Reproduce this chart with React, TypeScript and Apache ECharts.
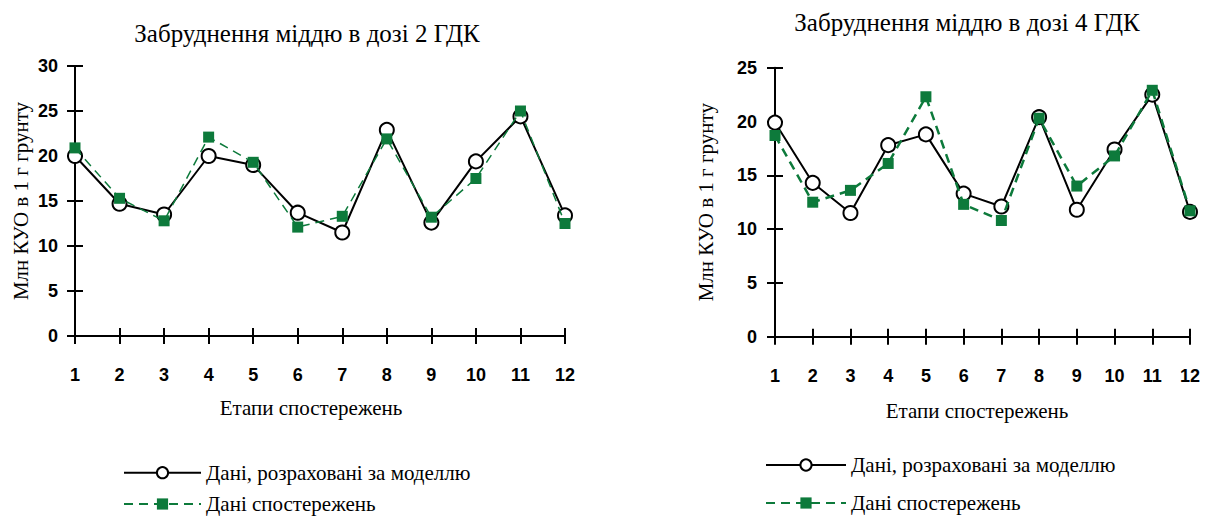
import React, { useEffect, useRef } from "react";
import * as echarts from "echarts";

const stages = ["1", "2", "3", "4", "5", "6", "7", "8", "9", "10", "11", "12"];
const model2 = [20.0, 14.7, 13.5, 20.0, 19.0, 13.7, 11.5, 22.9, 12.6, 19.4, 24.4, 13.4];
const observed2 = [20.9, 15.3, 12.8, 22.1, 19.3, 12.1, 13.3, 21.9, 13.2, 17.5, 25.0, 12.5];
const model4 = [19.9, 14.3, 11.5, 17.8, 18.8, 13.3, 12.1, 20.4, 11.8, 17.4, 22.5, 11.6];
const observed4 = [18.7, 12.5, 13.6, 16.1, 22.3, 12.3, 10.8, 20.3, 14.0, 16.8, 22.9, 11.7];

const titles = ["Забруднення міддю в дозі 2 ГДК", "Забруднення міддю в дозі 4 ГДК"];
const seriesNames = ["Дані, розраховані за моделлю", "Дані спостережень"];
const xName = "Етапи спостережень";
const yName = "Млн КУО в 1 г грунту";

const GREEN = "#0d7a3b";
const SERIF = "Liberation Serif";
const SANS = "Liberation Sans";

export default function App() {
  const ref = useRef<HTMLDivElement>(null);

  useEffect(() => {
    if (!ref.current) return;
    const chart = echarts.init(ref.current, null, { renderer: "svg" });

    const axisLine = { show: true, lineStyle: { color: "#000", width: 2 } };
    const tickOut = { show: true, inside: false, length: 8, lineStyle: { color: "#000", width: 2 } };
    const tickIn = { show: true, inside: true, length: 8, lineStyle: { color: "#000", width: 2 } };
    const tickLabel = { color: "#000", fontFamily: SANS, fontWeight: "bold" as const, fontSize: 18 };
    const serifText = (size: number) => ({
      color: "#000",
      fontFamily: SERIF,
      fontSize: size,
      fontWeight: "normal" as const,
      fontStyle: "normal" as const,
    });

    const mkX = (grid: number, nameGap: number, padRight: number) => [
      {
        type: "category",
        gridIndex: grid,
        position: "bottom",
        data: stages,
        boundaryGap: false,
        axisLine,
        axisTick: { ...tickOut, alignWithLabel: true },
        axisLabel: { ...tickLabel, margin: 30, interval: 0 },
        splitLine: { show: false },
        name: xName,
        nameLocation: "middle",
        nameGap,
        nameTextStyle: { ...serifText(21), padding: [0, padRight, 0, 0] },
      },
      {
        type: "category",
        gridIndex: grid,
        position: "bottom",
        data: stages,
        boundaryGap: false,
        axisLine: { show: false },
        axisTick: { ...tickIn, alignWithLabel: true },
        axisLabel: { show: false },
        splitLine: { show: false },
      },
    ];

    const mkY = (grid: number, max: number, margin: number, nameGap: number) => [
      {
        type: "value",
        gridIndex: grid,
        position: "left",
        min: 0,
        max,
        interval: 5,
        axisLine,
        axisTick: tickOut,
        axisLabel: { ...tickLabel, margin },
        splitLine: { show: false },
        name: yName,
        nameLocation: "middle",
        nameGap,
        nameTextStyle: serifText(21),
      },
      {
        type: "value",
        gridIndex: grid,
        position: "left",
        offset: 0,
        min: 0,
        max,
        interval: 5,
        axisLine: { show: false },
        axisTick: tickIn,
        axisLabel: { show: false },
        splitLine: { show: false },
      },
    ];

    const modelSeries = (data: number[], xi: number, yi: number) => ({
      type: "line",
      name: seriesNames[0],
      xAxisIndex: xi,
      yAxisIndex: yi,
      data,
      symbol: "circle",
      symbolSize: 14,
      itemStyle: { color: "#fff", borderColor: "#000", borderWidth: 2 },
      lineStyle: { color: "#000", width: 2 },
      z: 2,
    });
    const obsSeries = (data: number[], xi: number, yi: number, width: number) => ({
      type: "line",
      name: seriesNames[1],
      xAxisIndex: xi,
      yAxisIndex: yi,
      data,
      symbol: "rect",
      symbolSize: 11,
      itemStyle: { color: GREEN },
      lineStyle: { color: GREEN, width, type: [9, 6] },
      z: 3,
    });

    const mkLegend = (name: string, left: number, centerY: number, width: number) => ({
      orient: "horizontal",
      left,
      top: centerY - 10.5,
      padding: 0,
      itemWidth: width,
      itemHeight: 14,
      itemGap: 0,
      textStyle: serifText(21),
      data: [name],
      selectedMode: false,
    });

    chart.setOption({
      animation: false,
      backgroundColor: "#fff",
      title: [
        {
          text: titles[0],
          left: 302,
          top: 16,
          textAlign: "center",
          textStyle: serifText(25),
        },
        {
          text: titles[1],
          left: 962,
          top: 5,
          textAlign: "center",
          textStyle: serifText(25),
        },
      ],
      legend: [
        mkLegend(seriesNames[0], 123, 472.7, 77),
        mkLegend(seriesNames[1], 123, 504, 77),
        mkLegend(seriesNames[0], 765, 465, 80),
        mkLegend(seriesNames[1], 765, 503, 80),
      ],
      grid: [
        { left: 75, top: 66, width: 490, height: 270 },
        { left: 775, top: 67.7, width: 415, height: 269 },
      ],
      xAxis: [...mkX(0, 61, 18), ...mkX(1, 64, 11)],
      yAxis: [...mkY(0, 30, 17, 44), ...mkY(1, 25, 18, 59)],
      series: [
        modelSeries(model2, 0, 0),
        obsSeries(observed2, 0, 0, 1.5),
        modelSeries(model4, 2, 2),
        obsSeries(observed4, 2, 2, 2.5),
      ],
    });

    return () => chart.dispose();
  }, []);

  return (
    <div
      ref={ref}
      style={{ position: "fixed", left: 0, top: 0, width: 1207, height: 518 }}
    />
  );
}
